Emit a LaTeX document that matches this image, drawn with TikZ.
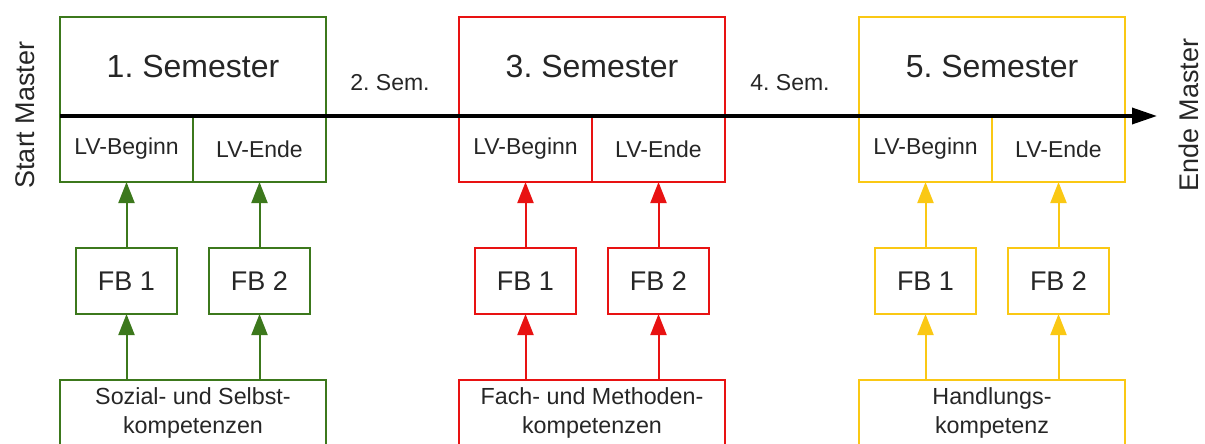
\documentclass[tikz,border=0pt]{standalone}
\usepackage{fontspec}
\setmainfont{Liberation Sans}
\usetikzlibrary{arrows.meta,positioning}
\frenchspacing

\definecolor{semgreen}{RGB}{60,120,28}
\definecolor{semred}{RGB}{232,18,18}
\definecolor{semyellow}{RGB}{250,200,20}

\begin{document}
\begin{tikzpicture}[x=1pt, y=-1pt,
    sem/.style={rectangle, draw=#1, line width=2pt, outer sep=0pt, minimum width=266pt, minimum height=99pt, text=black!85, font=\fontsize{32}{38}\selectfont},
    lv/.style={rectangle, draw=#1, line width=2pt, outer sep=0pt, minimum width=133pt, minimum height=66pt, text=black!85, font=\fontsize{23}{27}\selectfont},
    fb/.style={rectangle, draw=#1, line width=2pt, outer sep=0pt, minimum width=101pt, minimum height=66pt, text=black!85, font=\fontsize{27}{32}\selectfont},
    komp/.style={rectangle, draw=#1, line width=2pt, outer sep=0pt, minimum width=266pt, minimum height=66pt, align=center, text=black!85, font=\fontsize{23.3}{29}\selectfont},
    zwischen/.style={text=black!85, font=\fontsize{23}{27}\selectfont},
    master/.style={rotate=90, text=black!85, font=\fontsize{27}{32}\selectfont},
    feed/.style={-{Triangle[length=21pt, width=16pt]}, line width=2pt}
]
\clip (0,0) rectangle (1205,444);

% Semester
\node[sem=semgreen] (sem1) at (193, 66.5) {1. Semester};
\node[sem=semred] (sem3) at (592, 66.5) {3. Semester};
\node[sem=semyellow] (sem5) at (992, 66.5) {5. Semester};

% Lehrveranstaltungen
\node[lv=semgreen, anchor=north west] (beg1) at (sem1.south west) {LV-Beginn};
\node[lv=semgreen, right=0 of beg1] (end1) {LV-Ende};
\node[lv=semred, anchor=north west] (beg3) at (sem3.south west) {LV-Beginn};
\node[lv=semred, right=0 of beg3] (end3) {LV-Ende};
\node[lv=semyellow, anchor=north west] (beg5) at (sem5.south west) {LV-Beginn};
\node[lv=semyellow, right=0 of beg5] (end5) {LV-Ende};

% Fragebogen
\node[fb=semgreen, below=66pt of beg1] (fba1) {FB 1};
\node[fb=semgreen, below=66pt of end1] (fbb1) {FB 2};
\node[fb=semred, below=66pt of beg3] (fba3) {FB 1};
\node[fb=semred, below=66pt of end3] (fbb3) {FB 2};
\node[fb=semyellow, below=66pt of beg5] (fba5) {FB 1};
\node[fb=semyellow, below=66pt of end5] (fbb5) {FB 2};

% Kompetenzen
\node[komp=semgreen] (komp1) at (193, 413) {Sozial- und Selbst-\\kompetenzen};
\node[komp=semred] (komp3) at (592, 413) {Fach- und Methoden-\\kompetenzen};
\node[komp=semyellow] (komp5) at (992, 413) {Handlungs-\\kompetenz};

% Pfeile
\foreach \c/\n in {semgreen/1, semred/3, semyellow/5} {
    \draw[feed, \c] (fba\n |- komp\n.north) -- (fba\n.south);
    \draw[feed, \c] (fbb\n |- komp\n.north) -- (fbb\n.south);
    \draw[feed, \c] (fba\n.north) -- (beg\n.south);
    \draw[feed, \c] (fbb\n.north) -- (end\n.south);
}

% Zeitachse
\coordinate (ende) at (1157, 116);
\draw[-{Triangle[length=25pt, width=16pt]}, line width=3.5pt] (sem1.south west) -- (ende);

\node[zwischen] (sem2) at (390, 83) {2. Sem.};
\node[zwischen] (sem4) at (790, 83) {4. Sem.};
\node[master] (start) at (25, 115) {Start Master};
\node[master] (ziel) at (1189, 115) {Ende Master};

\end{tikzpicture}
\end{document}
